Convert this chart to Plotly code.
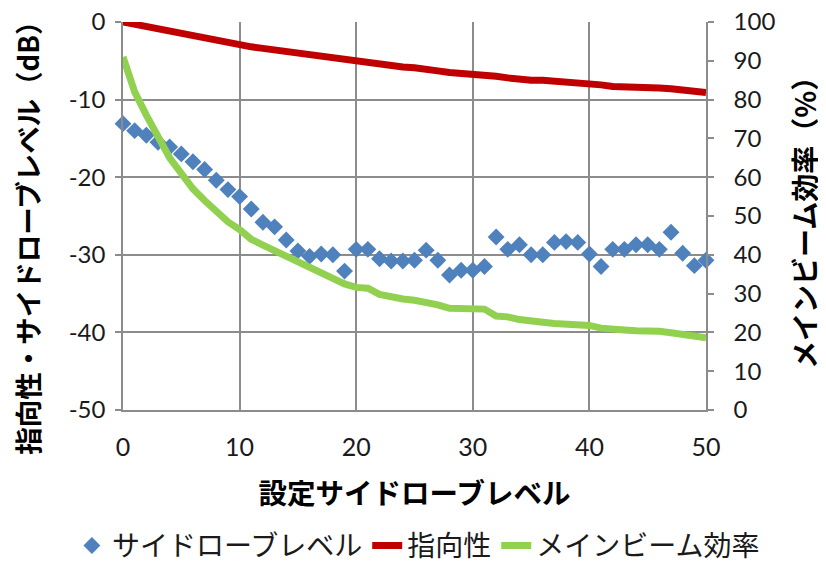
import plotly.graph_objects as go

x_level = list(range(0, 51))

sidelobe_db = [-13.1, -14.0, -14.6, -15.5, -16.1, -17.0, -18.0, -19.0, -20.4, -21.6,
               -22.5, -24.1, -25.8, -26.4, -28.1, -29.5, -30.2, -29.9, -30.0, -32.1,
               -29.3, -29.3, -30.5, -30.8, -30.8, -30.7, -29.4, -30.7, -32.6, -32.0,
               -32.0, -31.5, -27.7, -29.3, -28.7, -30.0, -30.0, -28.4, -28.3, -28.4,
               -29.9, -31.5, -29.3, -29.3, -28.7, -28.7, -29.3, -27.1, -29.8, -31.4,
               -30.7]

directivity_db = [0.0, -0.3, -0.6, -1.0, -1.3, -1.5, -1.8, -2.1, -2.3, -2.6,
                  -2.9, -3.2, -3.4, -3.6, -3.8, -4.0, -4.2, -4.4, -4.7, -5.0,
                  -5.2, -5.3, -5.6, -5.8, -5.8, -5.9, -6.0, -6.3, -6.5, -6.6,
                  -6.6, -6.8, -7.0, -7.2, -7.4, -7.5, -7.5, -7.6, -7.7, -7.8,
                  -7.8, -8.1, -8.3, -8.3, -8.4, -8.5, -8.5, -8.6, -8.8, -9.0,
                  -9.1]

efficiency_pct = [91.0, 82.0, 76.0, 70.0, 65.0, 61.0, 57.0, 54.0, 51.0, 48.5,
                  46.5, 44.0, 42.5, 41.0, 39.5, 38.0, 36.5, 35.5, 34.0, 32.5,
                  31.6, 31.4, 29.8, 29.0, 28.6, 28.3, 27.8, 27.1, 26.2, 26.0,
                  26.0, 26.0, 24.2, 24.0, 23.3, 22.8, 22.6, 22.3, 22.1, 21.9,
                  21.8, 21.1, 20.7, 20.6, 20.4, 20.4, 20.3, 19.9, 19.6, 19.1,
                  18.6]

names = ["サイドローブレベル", "指向性", "メインビーム効率"]
x_title = "設定サイドローブレベル"
y_title = "指向性・サイドローブレベル（dB）"
y2_title = "メインビーム効率（%）"

y_tickvals = [0, -10, -20, -30, -40, -50]
y_ticktext = ["0", "-10", "-20", "-30", "-40", "-50"]
y2_tickvals = [0, 10, 20, 30, 40, 50, 60, 70, 80, 90, 100]
x_tickvals = [0, 10, 20, 30, 40, 50]

CJK = "Noto Sans CJK JP"
NUM = "Lato"
grid = "#8c8c8c"
TXT = "#1a1a1a"

fig = go.Figure()
fig.add_trace(go.Scatter(x=x_level, y=sidelobe_db, mode="markers", name=names[0],
                         marker=dict(symbol="diamond", size=13, color="#4F81BD"),
                         cliponaxis=False))
fig.add_trace(go.Scatter(x=x_level, y=directivity_db, mode="lines", name=names[1],
                         line=dict(color="#C00000", width=7), cliponaxis=False))
fig.add_trace(go.Scatter(x=x_level, y=efficiency_pct, mode="lines", name=names[2],
                         line=dict(color="#92D050", width=7), yaxis="y2", cliponaxis=False))

fig.update_layout(
    width=826, height=565,
    paper_bgcolor="white", plot_bgcolor="white",
    margin=dict(l=115, r=128, t=14, b=163, autoexpand=False),
    showlegend=True,
    legend=dict(orientation="h", x=1.101, xanchor="right",
                y=-0.35, yanchor="middle",
                font=dict(family=CJK, size=28, color=TXT),
                itemwidth=30, tracegroupgap=0),
    xaxis=dict(range=[0, 50], tickvals=x_tickvals, showgrid=True, gridcolor=grid, gridwidth=1.5,
               showline=True, linecolor=grid, linewidth=1.5, zeroline=False,
               ticks="", tickfont=dict(family=NUM, size=25, color=TXT),
               ticklabelstandoff=14, automargin=False, ticklabeloverflow="allow",
               title=dict(text=x_title, font=dict(family=CJK, size=28.5, color="#000", weight="bold"),
                          standoff=24)),
    yaxis=dict(range=[-50, 0], tickvals=y_tickvals, ticktext=y_ticktext,
               showgrid=True, gridcolor=grid, gridwidth=1.5,
               showline=True, linecolor=grid, linewidth=1.5, zeroline=False,
               ticks="outside", ticklen=6, tickcolor=grid, tickwidth=1.5,
               tickfont=dict(family=NUM, size=24, color=TXT), automargin=False,
               ticklabelstandoff=5, ticklabeloverflow="allow"),
    yaxis2=dict(range=[0, 100], tickvals=y2_tickvals, overlaying="y", side="right", showgrid=False,
                showline=True, linecolor=grid, linewidth=1.5, zeroline=False,
                ticks="outside", ticklen=6, tickcolor=grid, tickwidth=1.5,
                tickfont=dict(family=NUM, size=24, color=TXT), automargin=False,
                ticklabelstandoff=15, ticklabeloverflow="allow"),
    annotations=[
        dict(text=y_title, xref="paper", yref="paper", x=-0.1647, y=0.462,
             xanchor="center", yanchor="middle", textangle=-90, showarrow=False,
             font=dict(family=CJK, size=27.5, color="#000", weight="bold")),
        dict(text=y2_title, xref="paper", yref="paper", x=1.168, y=0.50,
             xanchor="center", yanchor="middle", textangle=-90, showarrow=False,
             font=dict(family=CJK, size=28, color="#000", weight="bold")),
    ],
)

fig.write_html("out.html")
